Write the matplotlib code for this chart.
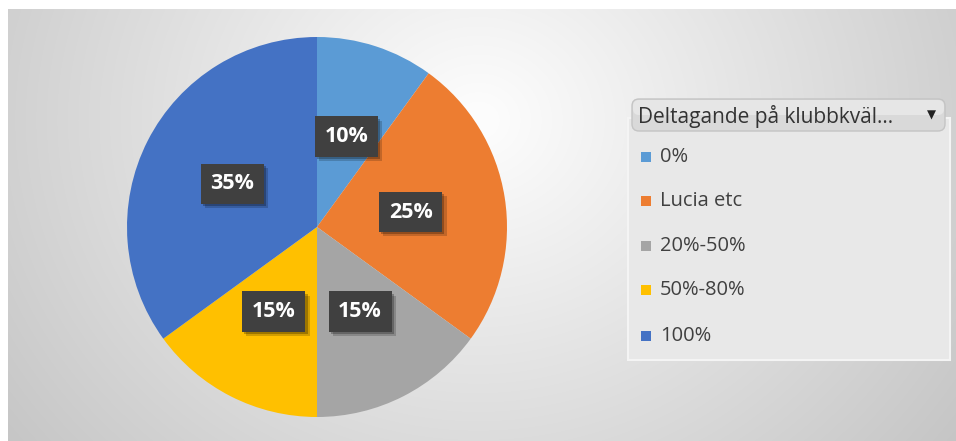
import matplotlib
matplotlib.use("Agg")
import numpy as np
import matplotlib.pyplot as plt
from matplotlib.patches import Rectangle, FancyBboxPatch
import matplotlib.patheffects as pe

matplotlib.rc('font', family=['Open Sans', 'DejaVu Sans'])

# data
categories = ['0%', 'Lucia etc', '20%-50%', '50%-80%', '100%']
shares = [10, 25, 15, 15, 35]
colors = ['#5B9BD5', '#ED7D31', '#A5A5A5', '#FFC000', '#4472C4']
legend_title = 'Deltagande på klubbkväl...'

W, H = 956, 441
fig = plt.figure(figsize=(W / 100, H / 100), dpi=100)

# background: soft radial grey gradient with a white strip top/left
bg = fig.add_axes([0, 0, 1, 1])
yy, xx = np.mgrid[0:H, 0:W]
d = np.sqrt(((xx - 478) * 0.1) ** 2 + ((yy - 120) * 0.112) ** 2)
shade = np.clip(254 - 0.95 * d, 190, 252) / 255.0
img = np.dstack([shade, shade, shade])
img[:9, :, :] = 1.0
img[:, :8, :] = 1.0
bg.imshow(img, extent=(0, W, H, 0), aspect='auto', interpolation='bilinear')
bg.set_xlim(0, W)
bg.set_ylim(H, 0)
bg.axis('off')

# pie: centre (317, 227) px, radius 190 px
cx, cy, r = 317, 227, 190
ax = fig.add_axes([(cx - r) / W, (H - cy - r) / H, 2 * r / W, 2 * r / H])
wedges, texts, autotexts = ax.pie(
    shares, colors=colors, startangle=90, counterclock=False,
    autopct='%1.0f%%', pctdistance=0.5, radius=1.0,
    wedgeprops=dict(linewidth=0))
ax.set_xlim(-1, 1)
ax.set_ylim(-1, 1)
ax.set_aspect('equal')

for t in autotexts:
    t.set_color('white')
    t.set_fontweight('bold')
    t.set_fontsize(15.5)
    t.set_bbox(dict(boxstyle='square,pad=0.45', facecolor='#404040',
                    edgecolor='none'))
    t.get_bbox_patch().set_path_effects(
        [pe.SimplePatchShadow(offset=(3, -3), alpha=0.18, shadow_rgbFace='black'),
         pe.SimplePatchShadow(offset=(1.5, -1.5), alpha=0.25, shadow_rgbFace='black'),
         pe.Normal()])

# legend panel (drawn in pixel coords on the background axes)
bg.add_patch(Rectangle((628, 118), 322, 242, facecolor='#e8e8e8',
                       edgecolor='#f4f4f4', linewidth=1.5, zorder=2))
bg.add_patch(FancyBboxPatch((632, 99), 313, 32,
                            boxstyle='round,pad=0,rounding_size=7',
                            facecolor='#d9d9d9', edgecolor='#c4c4c4',
                            linewidth=1, zorder=3))
bg.add_patch(FancyBboxPatch((633, 100), 311, 15,
                            boxstyle='round,pad=0,rounding_size=6',
                            facecolor='#e6e6e6', edgecolor='none', zorder=3))
bg.text(638, 116, legend_title, fontsize=15, color='#333333',
        va='center', ha='left', zorder=4)
bg.text(931, 115, '▼', fontsize=8.5, color='#222222', va='center',
        ha='center', family='DejaVu Sans', zorder=4)

row_y = [157, 201, 246, 290, 336]
for cat, col, y in zip(categories, colors, row_y):
    bg.add_patch(Rectangle((641, y - 5), 10, 10, facecolor=col,
                           edgecolor='none', zorder=4))
    bg.text(660, y, cat, fontsize=14.5, color='#404040', va='center',
            ha='left', zorder=4)

fig.savefig('out.png', dpi=100)
